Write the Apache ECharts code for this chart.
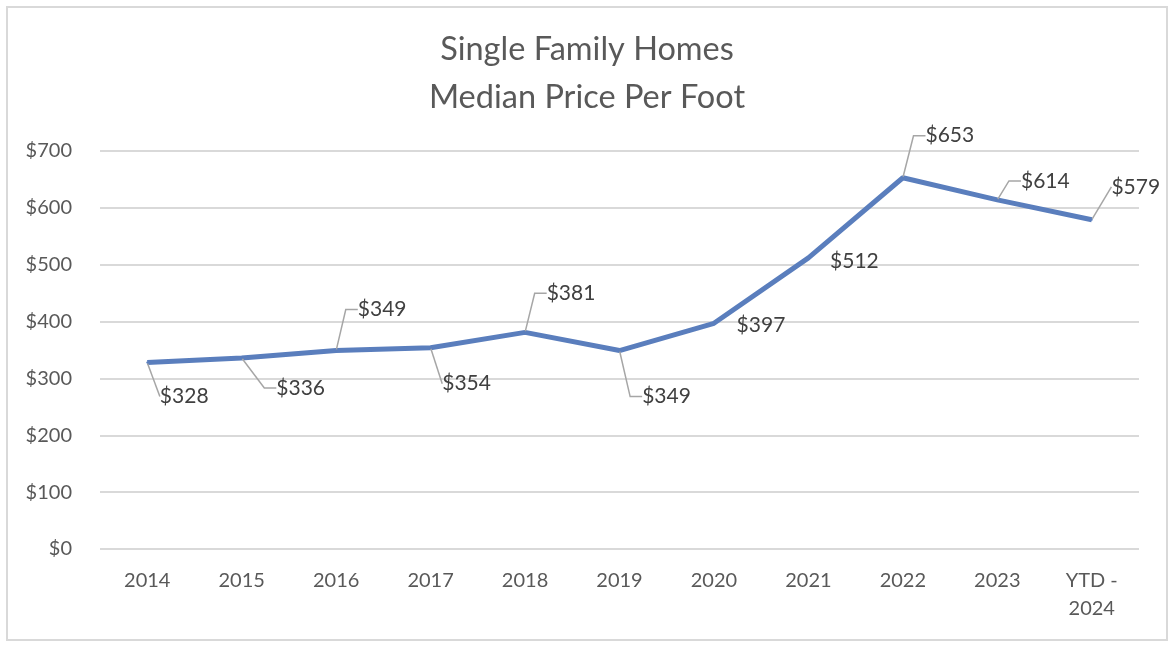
<!DOCTYPE html>
<html>
<head>
<meta charset="utf-8">
<script src="https://cdn.jsdelivr.net/npm/echarts@6/dist/echarts.min.js"></script>
<style>
  html, body { margin: 0; padding: 0; background: #fff; }
  #chart { width: 1174px; height: 648px; }
</style>
</head>
<body>
<div id="chart"></div>
<script>
const years = ['2014', '2015', '2016', '2017', '2018', '2019', '2020', '2021', '2022', '2023', 'YTD -\n2024'];
const pricePerFoot = [328, 336, 349, 354, 381, 349, 397, 512, 653, 614, 579];
const yTicks = [0, 100, 200, 300, 400, 500, 600, 700];

// where each callout sits, relative to its point
const labelOffsets = [
  [37, 34], [59, 30], [46, -41], [36, 36], [46, -39], [47, 46],
  [47, 2], [46, 3], [47, -42], [48, -19], [44, -33]
];
const noLeader = [6, 7];
const straightLeader = [0, 3, 10];

const font = 'Lato, "Open Sans", sans-serif';

const chart = echarts.init(document.getElementById('chart'));
chart.setOption({
  backgroundColor: '#fff',
  animation: false,
  title: {
    text: 'Single Family Homes\nMedian Price Per Foot',
    left: 'center',
    top: 21,
    textStyle: {
      fontFamily: font,
      fontSize: 32.5,
      fontWeight: 'normal',
      lineHeight: 48,
      color: '#595959'
    }
  },
  graphic: [{
    type: 'rect',
    shape: { x: 7, y: 7, width: 1160, height: 633 },
    style: { fill: 'none', stroke: '#D9D9D9', lineWidth: 2 },
    silent: true
  }],
  grid: { left: 100, right: 35, top: 151, bottom: 99 },
  xAxis: {
    type: 'category',
    data: years,
    boundaryGap: true,
    axisLine: { show: false },
    axisTick: { show: false },
    axisLabel: {
      margin: 18,
      fontFamily: font,
      fontSize: 20,
      lineHeight: 28,
      color: '#595959',
      verticalAlign: 'top'
    }
  },
  yAxis: {
    type: 'value',
    min: yTicks[0],
    max: yTicks[yTicks.length - 1],
    interval: 100,
    axisLine: { show: false },
    axisTick: { show: false },
    splitLine: { lineStyle: { color: '#D9D9D9', width: 2 } },
    axisLabel: {
      margin: 28,
      fontFamily: font,
      fontSize: 20,
      color: '#595959',
      formatter: v => '$' + v
    }
  },
  series: [{
    type: 'line',
    data: pricePerFoot.map((v, i) => ({
      value: v,
      labelLine: {
        show: noLeader.indexOf(i) < 0,
        length2: straightLeader.indexOf(i) < 0 ? 12 : 0
      }
    })),
    symbol: 'circle',
    symbolSize: 2,
    itemStyle: { color: '#5A7EBD' },
    lineStyle: { color: '#5A7EBD', width: 5 },
    label: {
      show: true,
      position: 'inside',
      fontFamily: font,
      fontSize: 21,
      color: '#404040',
      formatter: p => '$' + p.value
    },
    labelLine: {
      show: true,
      length2: 12,
      lineStyle: { color: '#A6A6A6', width: 1.5 }
    },
    labelLayout: p => ({
      dx: labelOffsets[p.dataIndex][0],
      dy: labelOffsets[p.dataIndex][1]
    })
  }]
});
</script>
</body>
</html>
